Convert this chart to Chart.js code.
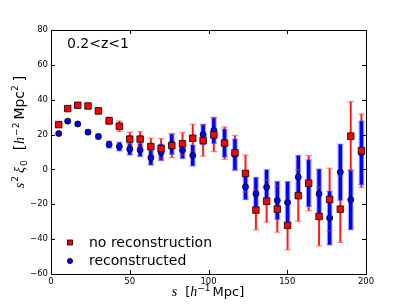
<!DOCTYPE html>
<html>
<head>
<meta charset="utf-8">
<script src="https://cdn.jsdelivr.net/npm/chart.js@4.4.0/dist/chart.umd.min.js"></script>
<style>
html,body{margin:0;padding:0;background:#fff;}
#wrap{width:407px;height:305px;}
</style>
</head>
<body>
<div id="wrap"><canvas id="c" width="407" height="305"></canvas></div>
<script>
/* data */
const sBins=[4.9,10.6,17,23.5,30.1,36.9,43.4,50,56.6,63.4,69.9,76.7,83.5,90,96.6,103.4,110.2,116.8,123.5,130.1,136.9,143.7,150.2,157,163.6,170.2,176.9,183.7,190.3,197.1];
const noRecon=[25.7,34.9,36.8,36.4,33.6,27.9,24.8,17.4,17.4,13.1,12.0,13.7,14.7,17.9,16.6,19.8,15.1,9.5,-2.3,-23.3,-18.2,-22.8,-32.1,-15.0,-7.9,-27.0,-17.2,-22.8,19.1,10.7];
const noReconErr=[1,1,1.2,1.3,1.8,2.1,3,4,4.3,4.8,5.7,6.9,6.5,8,9,9.6,9.3,10,10.6,11.3,12.1,13.2,14,14.7,15.8,16.8,17.9,19.1,19.8,21.1];
const recon=[20.6,27.7,26.1,21.4,18.9,14.3,13.1,11.6,11.1,6.7,9.8,14.5,11.0,8.0,20.1,22.4,15.1,8.5,-10,-14,-10.2,-17.8,-19,-4.4,-7.9,-14,-27.9,-1.6,-17.4,9.5];
const reconErr=[0.7,0.8,1,1.2,1.5,2,2.5,3.3,3.7,4.2,4.7,5.8,4.7,6,5.8,7.5,8,8.9,7.3,9.4,10,10.9,12,12.4,13.4,14.2,15.4,16.1,17.2,18.3];
const xTicks=[0,50,100,150,200];
const yTicks=[-60,-40,-20,0,20,40,60,80];
const seriesNames=['no reconstruction','reconstructed'];
const panelLabel='0.2<z<1';

const SANS='"DejaVu Sans"';
const SERIF='"Liberation Serif"';
Chart.defaults.font.family=SANS;

/* mathtext-ish label: pieces of text with their own font / offset */
function drawMath(ctx,parts,cx,cy,rot){
  ctx.save();
  ctx.translate(cx,cy);
  if(rot)ctx.rotate(rot);
  let w=0;
  parts.forEach(p=>{ctx.font=p.f;p.w=ctx.measureText(p.t).width+(p.gap||0);w+=p.w;});
  let x=-w/2;
  ctx.textBaseline='alphabetic';ctx.textAlign='left';ctx.fillStyle='#000';
  parts.forEach(p=>{ctx.font=p.f;ctx.fillText(p.t,x,p.dy||0);x+=p.w;});
  ctx.restore();
}

const errorBars={
  id:'errorBars',
  beforeDatasetsDraw(chart){
    const {ctx,scales:{x,y}}=chart;
    ctx.save();
    const bar=(vals,errs,color,width)=>{
      ctx.strokeStyle=color;ctx.lineWidth=width;ctx.lineCap='butt';
      sBins.forEach((s,i)=>{
        const px=x.getPixelForValue(s);
        ctx.beginPath();
        ctx.moveTo(px,y.getPixelForValue(vals[i]+errs[i]));
        ctx.lineTo(px,y.getPixelForValue(vals[i]-errs[i]));
        ctx.stroke();
      });
    };
    const caps=(vals,errs,color,half)=>{
      ctx.strokeStyle=color;ctx.lineWidth=1.3;
      sBins.forEach((s,i)=>{
        const px=x.getPixelForValue(s);
        [vals[i]+errs[i],vals[i]-errs[i]].forEach(v=>{
          const py=y.getPixelForValue(v);
          ctx.beginPath();ctx.moveTo(px-half,py);ctx.lineTo(px+half,py);ctx.stroke();
        });
      });
    };
    bar(noRecon,noReconErr,'rgba(255,0,0,0.9)',2);
    bar(recon,reconErr,'rgba(60,60,255,0.45)',5.5);
    bar(recon,reconErr,'#0000ff',3.5);
    caps(noRecon,noReconErr,'rgba(255,60,60,0.55)',3.2);
    caps(recon,reconErr,'rgba(90,90,255,0.5)',3.2);
    ctx.restore();
  }
};

const frameAndText={
  id:'frameAndText',
  afterDraw(chart){
    const {ctx,chartArea:a,scales:{x,y}}=chart;
    ctx.save();
    ctx.strokeStyle='#000';ctx.lineWidth=1;
    ctx.strokeRect(a.left+0.5,a.top+0.5,a.right-a.left,a.bottom-a.top);
    // inward ticks on all four sides
    ctx.beginPath();
    xTicks.forEach(v=>{
      const px=Math.round(x.getPixelForValue(v))+0.5;
      ctx.moveTo(px,a.bottom);ctx.lineTo(px,a.bottom-4);
      ctx.moveTo(px,a.top);ctx.lineTo(px,a.top+4);
    });
    yTicks.forEach(v=>{
      const py=Math.round(y.getPixelForValue(v))+0.5;
      ctx.moveTo(a.left,py);ctx.lineTo(a.left+4,py);
      ctx.moveTo(a.right,py);ctx.lineTo(a.right-4,py);
    });
    ctx.stroke();

    ctx.fillStyle='#000';ctx.textBaseline='alphabetic';ctx.textAlign='left';
    ctx.font='14px '+SANS;
    ctx.fillText(panelLabel,67,48);

    // legend
    ctx.fillText(seriesNames[0],89,247);
    ctx.fillText(seriesNames[1],89,265);
    ctx.lineWidth=0.8;
    ctx.fillStyle='#ff0000';
    ctx.fillRect(67.5,240,5,5);ctx.strokeRect(67.5,240,5,5);
    ctx.fillStyle='#0000ff';
    ctx.beginPath();ctx.arc(70,261,2.6,0,Math.PI*2);ctx.fill();ctx.stroke();

    // axis titles
    const it='italic 14px '+SERIF, rm='13px '+SANS, sm='9px '+SANS;
    drawMath(ctx,[
      {t:'s',f:it,gap:8},{t:'[',f:rm},{t:'h',f:it},
      {t:'\u22121',f:sm,dy:-5,gap:2},{t:'Mpc]',f:rm}
    ],208,296);
    const rm2='14px '+SANS;
    drawMath(ctx,[
      {t:'s',f:it,gap:1},{t:'2',f:sm,dy:-6,gap:3},{t:'\u03be',f:it,gap:1},{t:'0',f:sm,dy:3,gap:10},
      {t:'[',f:rm2,gap:1},{t:'h',f:it,gap:1},{t:'\u22122',f:sm,dy:-5,gap:3},{t:'Mpc',f:rm2},
      {t:'2',f:sm,dy:-6,gap:4},{t:']',f:rm2}
    ],24,132,-Math.PI/2);
    ctx.restore();
  }
};

new Chart(document.getElementById('c'),{
  type:'scatter',
  data:{
    datasets:[
      {label:seriesNames[0],data:sBins.map((s,i)=>({x:s,y:noRecon[i]})),
       pointStyle:'rect',pointRadius:4.6,backgroundColor:'#ff0000',borderColor:'#000',borderWidth:0.8},
      {label:seriesNames[1],data:sBins.map((s,i)=>({x:s,y:recon[i]})),
       pointStyle:'circle',pointRadius:3,backgroundColor:'#0000ff',borderColor:'#000',borderWidth:0.8}
    ]
  },
  plugins:[errorBars,frameAndText],
  options:{
    responsive:false,animation:false,devicePixelRatio:1,
    layout:{padding:{top:30,right:41,left:0,bottom:0}},
    plugins:{legend:{display:false},tooltip:{enabled:false}},
    scales:{
      x:{type:'linear',min:0,max:200,
        afterFit:s=>{s.height=31},
        afterBuildTicks:s=>{s.ticks=xTicks.map(v=>({value:v}))},
        grid:{display:false,drawTicks:false},border:{display:false},
        ticks:{font:{size:8.5},color:'#000',padding:3,maxRotation:0,autoSkip:false}},
      y:{type:'linear',min:-60,max:80,
        afterFit:s=>{s.width=51},
        afterBuildTicks:s=>{s.ticks=yTicks.map(v=>({value:v}))},
        grid:{display:false,drawTicks:false},border:{display:false},
        ticks:{font:{size:8.5},color:'#000',padding:3,autoSkip:false,
          callback:v=>String(v).replace('-','\u2212')}}
    }
  }
});
</script>
</body>
</html>
